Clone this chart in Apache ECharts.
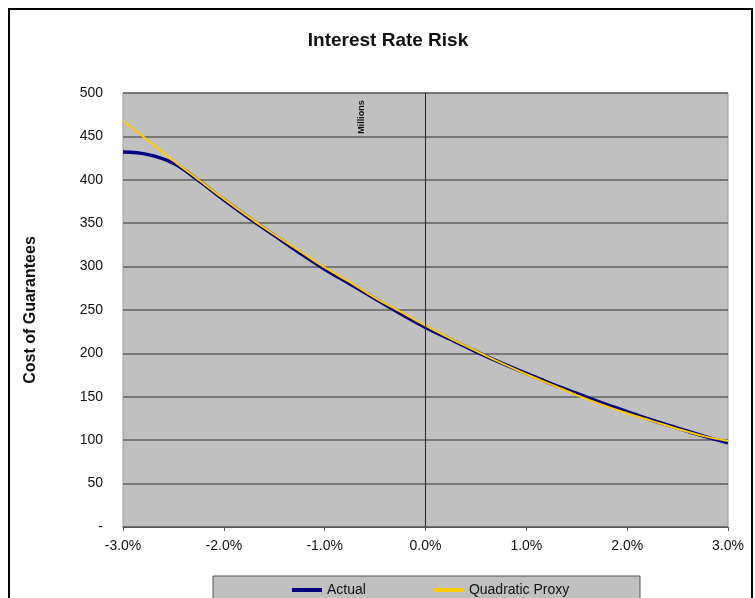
<!DOCTYPE html>
<html>
<head>
<meta charset="utf-8">
<script src="https://cdn.jsdelivr.net/npm/echarts@6/dist/echarts.min.js"></script>
<style>
html,body{margin:0;padding:0;background:#fff;}
#c{width:755px;height:598px;}
</style>
</head>
<body>
<div id="c"></div>
<script>
// Rate shift (%), read at 0.25% steps
var rateShift = [-3,-2.75,-2.5,-2.25,-2,-1.75,-1.5,-1.25,-1,-0.75,-0.5,-0.25,0,0.25,0.5,0.75,1,1.25,1.5,1.75,2,2.25,2.5,2.75,3];
// Cost of guarantees (millions)
var actual = [432,429,419,399,377,356,336,316,297,280,263,246,230,216,202,189,177,165,154,143,133,123,114,105,97];
var quadraticProxy = [468,445,422,400,378,357,337,318,299,282,264,248,232,217,203,189,176,164,152,141,131,122,113,105,99];
var xTicks = [-3,-2,-1,0,1,2,3];
var yTicks = [0,50,100,150,200,250,300,350,400,450,500];

function pairs(xs, ys){ return xs.map(function(x,i){ return [x, ys[i]]; }); }

var chart = echarts.init(document.getElementById('c'), null, {renderer:'canvas'});
var FONT = 'Liberation Sans, Arial, sans-serif';
chart.setOption({
  animation: false,
  backgroundColor: '#ffffff',
  grid: {left:123, right:27, top:93, bottom:71, show:true, backgroundColor:'#c0c0c0', borderColor:'#9a9a9a', borderWidth:1},
  xAxis: {
    type:'value', min:xTicks[0], max:xTicks[xTicks.length-1], interval:1,
    axisLine:{show:true, onZero:false, lineStyle:{color:'#555', width:1}},
    axisTick:{show:true, length:4, lineStyle:{color:'#555'}},
    splitLine:{show:false},
    axisLabel:{color:'#111', fontFamily:FONT, fontSize:14, margin:12,
      formatter:function(v){ return v.toFixed(1)+'%'; }}
  },
  yAxis: {
    type:'value', min:yTicks[0], max:yTicks[yTicks.length-1], interval:50,
    axisLine:{show:false},
    axisTick:{show:false},
    splitLine:{show:true, lineStyle:{color:'#5f5f5f', width:1.5}},
    axisLabel:{color:'#111', fontFamily:FONT, fontSize:14, margin:20,
      formatter:function(v){ return v===0 ? '-' : String(v); }}
  },
  legend: {
    left:287, top:578, itemWidth:30, itemHeight:4, itemGap:68, icon:'rect',
    textStyle:{color:'#111', fontFamily:FONT, fontSize:14},
    data:['Actual','Quadratic Proxy']
  },
  graphic: [
    {type:'rect', shape:{x:9, y:9, width:743, height:620}, style:{fill:'none', stroke:'#000', lineWidth:2}, z:-1},
    {type:'rect', shape:{x:213, y:576, width:427, height:30}, style:{fill:'#c0c0c0', stroke:'#555', lineWidth:1}, z:-1},
    {type:'text', style:{x:388, y:41, text:'Interest Rate Risk', fill:'#111', font:'bold 19px '+FONT, textAlign:'center', textVerticalAlign:'middle'}},
    {type:'text', x:31, y:310, rotation:Math.PI/2, style:{text:'Cost of Guarantees', fill:'#111', font:'bold 16px '+FONT, textAlign:'center', textVerticalAlign:'middle'}},
    {type:'text', x:362, y:117, rotation:Math.PI/2, style:{text:'Millions', fill:'#111', font:'bold 9px '+FONT, textAlign:'center', textVerticalAlign:'middle'}, z:10}
  ],
  series: [
    {name:'Actual', type:'line', data:pairs(rateShift, actual), smooth:0.4, showSymbol:false,
      lineStyle:{color:'#000080', width:3.5}, itemStyle:{color:'#000080'}, z:2,
      markLine:{silent:true, symbol:'none', label:{show:false}, lineStyle:{color:'#222', width:1, type:'solid'}, data:[{xAxis:0}]}},
    {name:'Quadratic Proxy', type:'line', data:pairs(rateShift, quadraticProxy), smooth:0.4, showSymbol:false,
      lineStyle:{color:'#ffcc00', width:2}, itemStyle:{color:'#ffcc00'}, z:3}
  ]
});
</script>
</body>
</html>
